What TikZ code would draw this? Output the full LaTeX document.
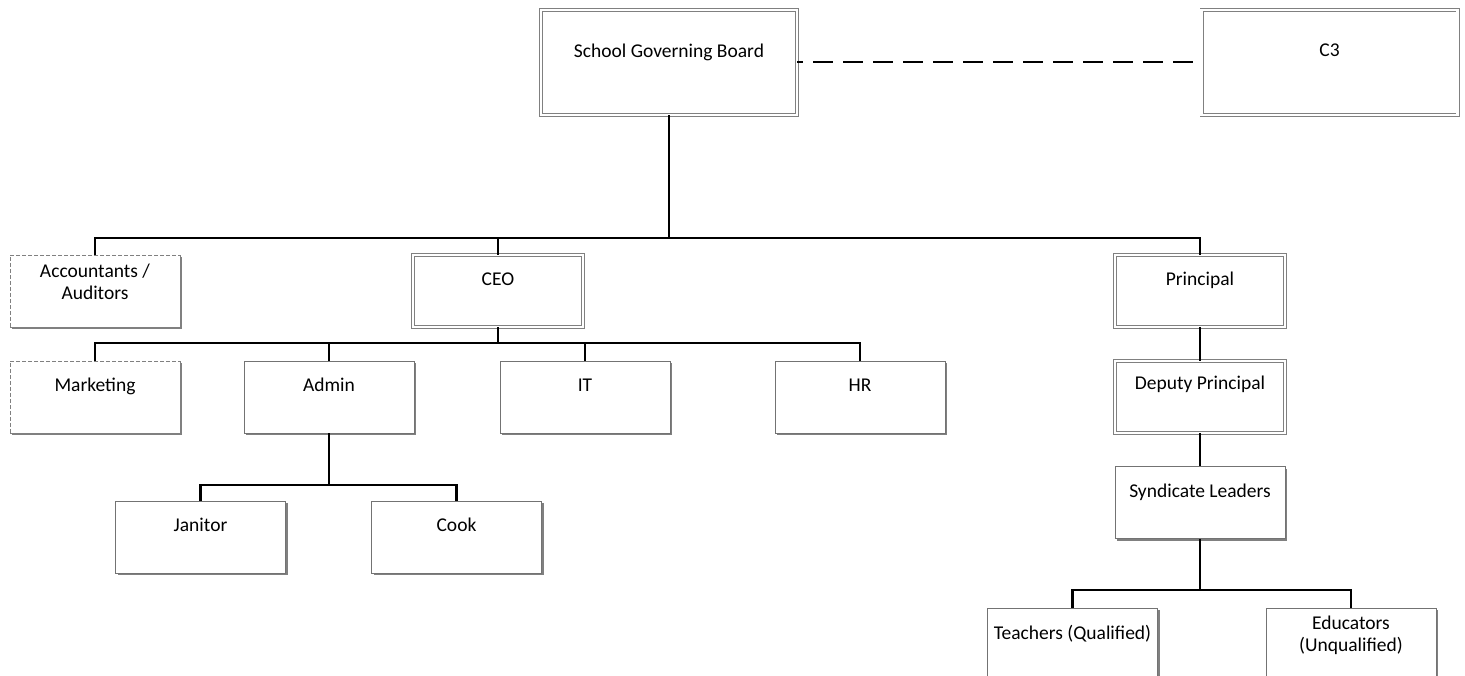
\documentclass[tikz,border=0pt]{standalone}
\usepackage{fontspec}
\setmainfont{Carlito}
\usetikzlibrary{shadows}
\begin{document}
\begin{tikzpicture}[x=1pt,y=-1pt,
 base/.style={rectangle, fill=white, inner sep=0pt, drop shadow={shadow xshift=2pt,shadow yshift=-2pt,fill=black!50,opacity=1}},
 plainbox/.style={base, draw=black!55, line width=0.8pt},
 dblbox/.style={base, draw=black!50, double=white, double distance=2.6pt, line width=0.7pt},
 dashbox/.style={base, draw=black!50, line width=0.8pt, dash pattern=on 4pt off 2pt},
 big/.style={minimum width=256pt, minimum height=105pt},
 small/.style={minimum width=170pt, minimum height=72pt},
 lbl/.style={inner sep=0pt, font=\fontsize{19.5}{22}\selectfont, anchor=base},
 lbltwo/.style={inner sep=0pt, font=\fontsize{19.5}{22}\selectfont, anchor=north, align=center},
 conn/.style={draw=black, line width=2.4pt},
 dconn/.style={draw=black, line width=2pt, dash pattern=on 20pt off 10pt, dash phase=14pt}]
\useasboundingbox (0,0) rectangle (1465,676);
\clip (0,0) rectangle (1465,676);

% boxes
\node[dblbox, big] (sgb) at (669,62.5) {};
\node[dblbox, big] (c3) at (1329.5,62.5) {};
\node[dashbox, small] (acc) at (95,291) {};
\node[dblbox, small] (ceo) at (498,291) {};
\node[dblbox, small] (prin) at (1200,291) {};
\node[dashbox, small] (mkt) at (95,397) {};
\node[plainbox, small] (admin) at (329,397) {};
\node[plainbox, small] (it) at (585,397) {};
\node[plainbox, small] (hr) at (860,397) {};
\node[dblbox, small] (dep) at (1200,397) {};
\node[plainbox, small] (syn) at (1200,502.5) {};
\node[plainbox, small] (jan) at (200.5,537) {};
\node[plainbox, small] (cook) at (456.5,537) {};
\node[plainbox, small] (teach) at (1072.5,644) {};
\node[plainbox, small] (edu) at (1351,644) {};

% labels
\node[lbl] (sgbt) at ([yshift=-48pt]sgb.north) {School Governing Board};
\node[lbl] (c3t) at ([yshift=-47pt]c3.north) {C3};
\node[lbltwo] (acct) at ([yshift=-9pt]acc.north) {Accountants /\\Auditors};
\node[lbl] (ceot) at ([yshift=-31pt]ceo.north) {CEO};
\node[lbl] (print) at ([yshift=-31pt]prin.north) {Principal};
\node[lbl] (mktt) at ([yshift=-31pt]mkt.north) {Marketing};
\node[lbl] (admint) at ([yshift=-31pt]admin.north) {Admin};
\node[lbl] (itt) at ([yshift=-31pt]it.north) {IT};
\node[lbl] (hrt) at ([yshift=-31pt]hr.north) {HR};
\node[lbl] (dept) at ([yshift=-29pt]dep.north) {Deputy Principal};
\node[lbl] (synt) at ([yshift=-31pt]syn.north) {Syndicate Leaders};
\node[lbl] (jant) at ([yshift=-31pt]jan.north) {Janitor};
\node[lbl] (cookt) at ([yshift=-31pt]cook.north) {Cook};
\node[lbl] (teacht) at ([yshift=-32pt]teach.north) {Teachers (Qualified)};
\node[lbltwo] (edut) at ([yshift=-8pt]edu.north) {Educators\\(Unqualified)};

% connectors
\coordinate (busA) at (669,238);
\coordinate (busB) at (498,343);
\coordinate (busC) at (329,485);
\coordinate (busD) at (1200,590);

\draw[dconn] (sgb.east) -- (c3.west);
\draw[conn] (sgb.south) -- (busA);
\draw[conn] (acc.north) |- (busA) -| (prin.north);
\draw[conn] (ceo.north) -- (ceo.north |- busA);

\draw[conn] (ceo.south) -- (busB);
\draw[conn] (mkt.north) |- (busB) -| (hr.north);
\draw[conn] (admin.north) -- (admin.north |- busB);
\draw[conn] (it.north) -- (it.north |- busB);

\draw[conn] (admin.south) -- (busC);
\draw[conn] (jan.north) |- (busC) -| (cook.north);

\draw[conn] (prin.south) -- (dep.north);
\draw[conn] (dep.south) -- (syn.north);
\draw[conn] (syn.south) -- (busD);
\draw[conn] (teach.north) |- (busD) -| (edu.north);
\end{tikzpicture}
\end{document}
